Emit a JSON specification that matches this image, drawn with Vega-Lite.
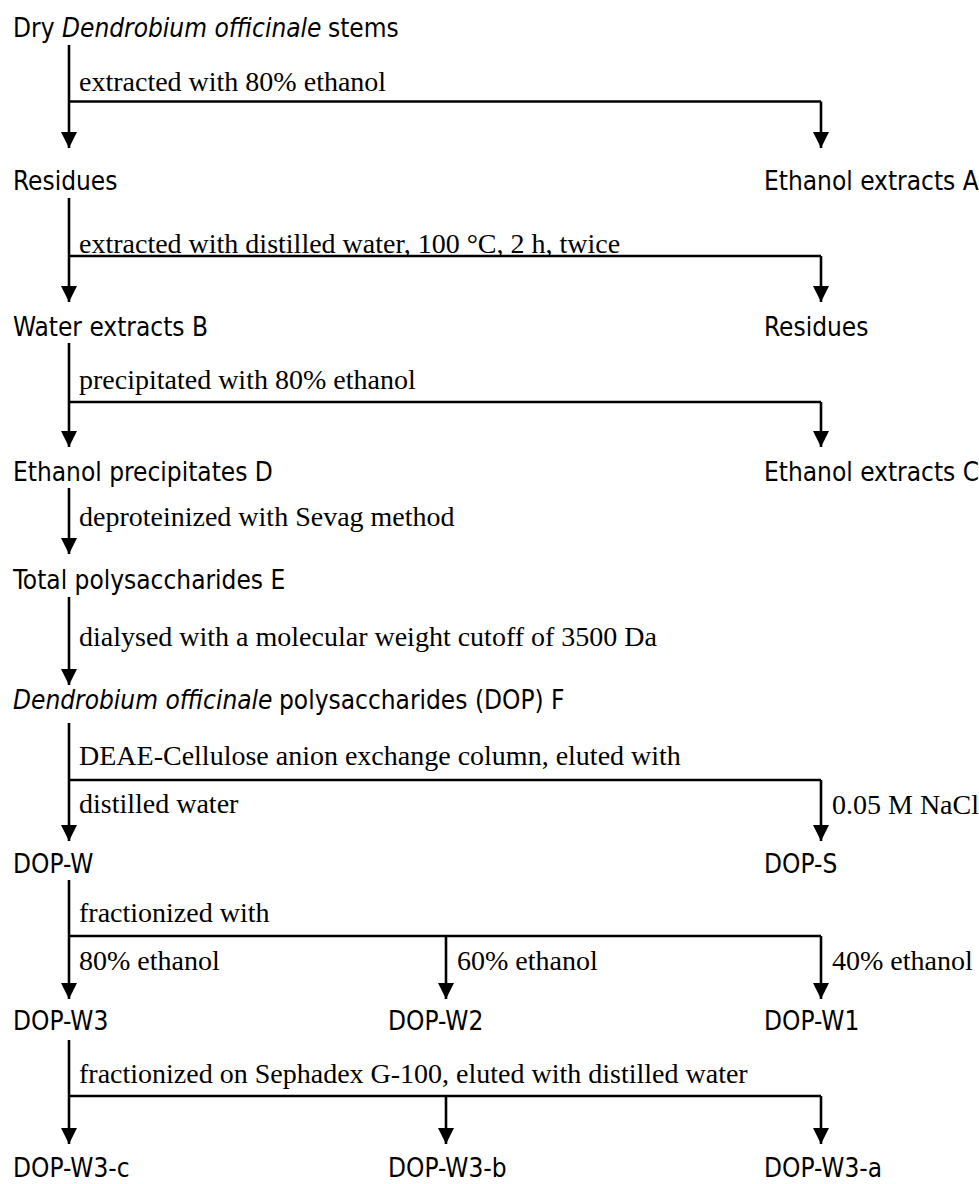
{
  "$schema": "https://vega.github.io/schema/vega-lite/v6.json",
  "width": 979,
  "height": 1184,
  "autosize": {"type": "none"},
  "padding": 0,
  "background": "white",
  "config": {"view": {"stroke": null}},
  "datasets": {
    "segs": [
      {"x": 69, "y": 45, "x2": 69, "y2": 148},
      {"x": 69, "y": 101.5, "x2": 821, "y2": 101.5},
      {"x": 821, "y": 101.5, "x2": 821, "y2": 148},
      {"x": 69, "y": 198, "x2": 69, "y2": 302},
      {"x": 69, "y": 256, "x2": 821, "y2": 256},
      {"x": 821, "y": 256, "x2": 821, "y2": 302},
      {"x": 69, "y": 343, "x2": 69, "y2": 447},
      {"x": 69, "y": 402, "x2": 821, "y2": 402},
      {"x": 821, "y": 402, "x2": 821, "y2": 447},
      {"x": 69, "y": 488, "x2": 69, "y2": 554},
      {"x": 69, "y": 597, "x2": 69, "y2": 685},
      {"x": 69, "y": 723, "x2": 69, "y2": 841},
      {"x": 69, "y": 780, "x2": 821, "y2": 780},
      {"x": 821, "y": 780, "x2": 821, "y2": 841},
      {"x": 69, "y": 880, "x2": 69, "y2": 999},
      {"x": 69, "y": 936, "x2": 821, "y2": 936},
      {"x": 446, "y": 936, "x2": 446, "y2": 999},
      {"x": 821, "y": 936, "x2": 821, "y2": 999},
      {"x": 69, "y": 1040, "x2": 69, "y2": 1144},
      {"x": 69, "y": 1096, "x2": 821, "y2": 1096},
      {"x": 446, "y": 1096, "x2": 446, "y2": 1144},
      {"x": 821, "y": 1096, "x2": 821, "y2": 1144}
    ],
    "arrows": [
      {"x": 69, "y": 148}, {"x": 821, "y": 148},
      {"x": 69, "y": 302}, {"x": 821, "y": 302},
      {"x": 69, "y": 447}, {"x": 821, "y": 447},
      {"x": 69, "y": 554},
      {"x": 69, "y": 685},
      {"x": 69, "y": 841}, {"x": 821, "y": 841},
      {"x": 69, "y": 999}, {"x": 446, "y": 999}, {"x": 821, "y": 999},
      {"x": 69, "y": 1144}, {"x": 446, "y": 1144}, {"x": 821, "y": 1144}
    ],
    "labels": [
      {"x": 13, "y": 37, "text": "Dry", "kind": "node"},
      {"x": 62, "y": 37, "text": "Dendrobium officinale", "kind": "nodeItalic"},
      {"x": 328, "y": 37, "text": "stems", "kind": "node"},
      {"x": 13, "y": 190, "text": "Residues", "kind": "node"},
      {"x": 764, "y": 190, "text": "Ethanol extracts A", "kind": "node"},
      {"x": 13, "y": 336, "text": "Water extracts B", "kind": "node"},
      {"x": 764, "y": 336, "text": "Residues", "kind": "node"},
      {"x": 13, "y": 481, "text": "Ethanol precipitates D", "kind": "node"},
      {"x": 764, "y": 481, "text": "Ethanol extracts C", "kind": "node"},
      {"x": 13, "y": 589, "text": "Total polysaccharides E", "kind": "node"},
      {"x": 13, "y": 709, "text": "Dendrobium officinale", "kind": "nodeItalic"},
      {"x": 279, "y": 709, "text": "polysaccharides (DOP) F", "kind": "node"},
      {"x": 13, "y": 873, "text": "DOP-W", "kind": "node"},
      {"x": 764, "y": 873, "text": "DOP-S", "kind": "node"},
      {"x": 13, "y": 1030, "text": "DOP-W3", "kind": "node"},
      {"x": 388, "y": 1030, "text": "DOP-W2", "kind": "node"},
      {"x": 764, "y": 1030, "text": "DOP-W1", "kind": "node"},
      {"x": 13, "y": 1177, "text": "DOP-W3-c", "kind": "node"},
      {"x": 388, "y": 1177, "text": "DOP-W3-b", "kind": "node"},
      {"x": 764, "y": 1177, "text": "DOP-W3-a", "kind": "node"},
      {"x": 79, "y": 91, "text": "extracted with 80% ethanol", "kind": "step"},
      {"x": 79, "y": 253, "text": "extracted with distilled water, 100 °C, 2 h, twice", "kind": "step"},
      {"x": 79, "y": 389, "text": "precipitated with 80% ethanol", "kind": "step"},
      {"x": 79, "y": 526, "text": "deproteinized with Sevag method", "kind": "step"},
      {"x": 79, "y": 646, "text": "dialysed with a molecular weight cutoff of 3500 Da", "kind": "step"},
      {"x": 79, "y": 765, "text": "DEAE-Cellulose anion exchange column, eluted with", "kind": "step"},
      {"x": 79, "y": 813, "text": "distilled water", "kind": "step"},
      {"x": 832, "y": 814, "text": "0.05 M NaCl", "kind": "step"},
      {"x": 79, "y": 922, "text": "fractionized with", "kind": "step"},
      {"x": 79, "y": 970, "text": "80% ethanol", "kind": "step"},
      {"x": 457, "y": 970, "text": "60% ethanol", "kind": "step"},
      {"x": 832, "y": 970, "text": "40% ethanol", "kind": "step"},
      {"x": 79, "y": 1083, "text": "fractionized on Sephadex G-100, eluted with distilled water", "kind": "step"}
    ]
  },
  "encoding": {
    "x": {"field": "x", "type": "quantitative", "scale": {"domain": [0, 979], "nice": false, "zero": false}, "axis": null},
    "y": {"field": "y", "type": "quantitative", "scale": {"domain": [0, 1184], "nice": false, "zero": false, "reverse": true}, "axis": null}
  },
  "layer": [
    {
      "data": {"name": "segs"},
      "mark": {"type": "rule", "color": "#000000", "strokeWidth": 2.6},
      "encoding": {
        "x2": {"field": "x2"},
        "y2": {"field": "y2"}
      }
    },
    {
      "data": {"name": "arrows"},
      "mark": {"type": "point", "shape": "M-1,-2L1,-2L0,0Z", "size": 256, "filled": true, "color": "#000000", "opacity": 1, "strokeWidth": 0}
    },
    {
      "data": {"name": "labels"},
      "transform": [{"filter": "datum.kind === 'node'"}],
      "mark": {"type": "text", "align": "left", "baseline": "alphabetic", "font": "DejaVu Sans Condensed", "fontSize": 26, "color": "#000000"},
      "encoding": {"text": {"field": "text"}}
    },
    {
      "data": {"name": "labels"},
      "transform": [{"filter": "datum.kind === 'nodeItalic'"}],
      "mark": {"type": "text", "align": "left", "baseline": "alphabetic", "font": "DejaVu Sans Condensed", "fontSize": 26, "fontStyle": "italic", "color": "#000000"},
      "encoding": {"text": {"field": "text"}}
    },
    {
      "data": {"name": "labels"},
      "transform": [{"filter": "datum.kind === 'step'"}],
      "mark": {"type": "text", "align": "left", "baseline": "alphabetic", "font": "Liberation Serif, Times New Roman, serif", "fontSize": 28, "color": "#000000"},
      "encoding": {"text": {"field": "text"}}
    }
  ]
}
